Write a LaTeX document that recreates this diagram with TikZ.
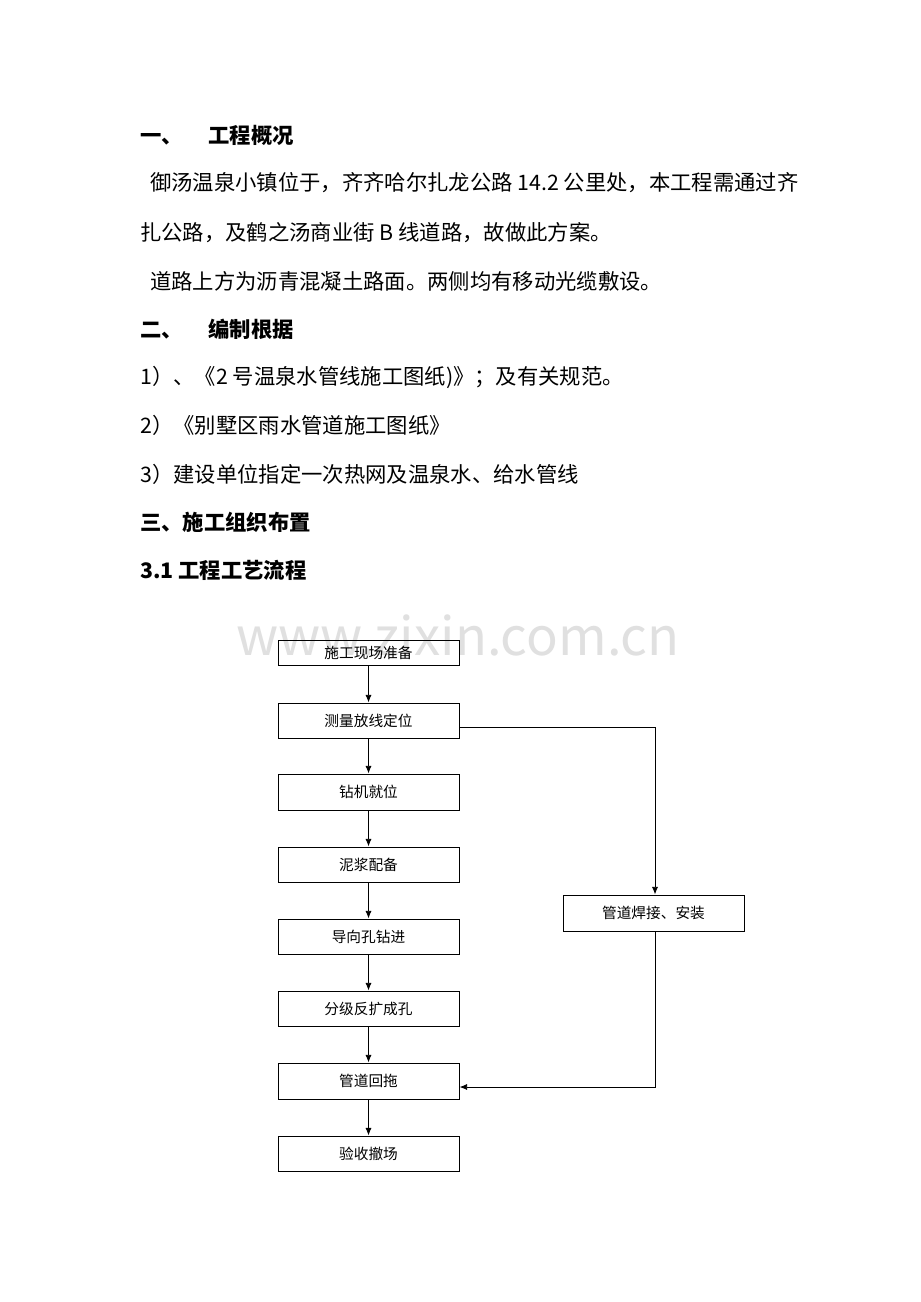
\documentclass[tikz,border=0pt]{standalone}
\usepackage{fontspec}
\setmainfont{Noto Sans CJK SC}
\usetikzlibrary{arrows.meta}
\begin{document}
\begin{tikzpicture}[x=0.647pt,y=-0.647pt,
 txt/.style={anchor=west,inner sep=0,font=\fontsize{13.8}{15}\selectfont},
 hd/.style={txt,font=\fontsize{13.8}{15}\selectfont\bfseries},
 box/.style={draw,line width=0.6pt,minimum width=181*0.647pt,inner sep=0,font=\fontsize{9.5}{10}\selectfont},
 arr/.style={-{Latex[length=5pt,width=4pt]},line width=0.6pt}]
\useasboundingbox (0,0) rectangle (920,1302);
\fill[white] (0,0) rectangle (920,1302);
\node[text=black!12,font=\fontsize{34}{36}\selectfont] (wm) at (458,635) {www.zixin.com.cn};
\node[hd] (h1) at (140,135) {一、\hspace{1.2em}工程概况};
\node[txt] (p1) at (150,183) {御汤温泉小镇位于，齐齐哈尔扎龙公路 14.2 公里处，本工程需通过齐};
\node[txt] (p2) at (140,233) {扎公路，及鹤之汤商业街 B 线道路，故做此方案。};
\node[txt] (p3) at (150,281) {道路上方为沥青混凝土路面。两侧均有移动光缆敷设。};
\node[hd] (h2) at (140,329) {二、\hspace{1.2em}编制根据};
\node[txt] (p4) at (140,377) {1）、《2 号温泉水管线施工图纸)》；及有关规范。};
\node[txt] (p5) at (140,425) {2）《别墅区雨水管道施工图纸》};
\node[txt] (p6) at (140,474) {3）建设单位指定一次热网及温泉水、给水管线};
\node[hd] (h3) at (140,522) {三、施工组织布置};
\node[hd] (h4) at (140,570) {3.1 工程工艺流程};
\node[box,minimum height=25*0.647pt] (b1) at (368.5,652.5) {施工现场准备};
\node[box,minimum height=35*0.647pt] (b2) at (368.5,720.5) {测量放线定位};
\node[box,minimum height=36*0.647pt] (b3) at (368.5,792) {钻机就位};
\node[box,minimum height=35*0.647pt] (b4) at (368.5,864.5) {泥浆配备};
\node[box,minimum height=35*0.647pt] (b5) at (368.5,936.5) {导向孔钻进};
\node[box,minimum height=35*0.647pt] (b6) at (368.5,1008.5) {分级反扩成孔};
\node[box,minimum height=36*0.647pt] (b7) at (368.5,1081) {管道回拖};
\node[box,minimum height=35*0.647pt] (b8) at (368.5,1153.5) {验收撤场};
\node[box,minimum height=36*0.647pt] (r1) at (653.5,913) {管道焊接、安装};
\draw[arr] (b1) -- (b2);
\draw[arr] (b2) -- (b3);
\draw[arr] (b3) -- (b4);
\draw[arr] (b4) -- (b5);
\draw[arr] (b5) -- (b6);
\draw[arr] (b6) -- (b7);
\draw[arr] (b7) -- (b8);
\coordinate (c1) at (655,727);
\coordinate (c2) at (655,1087);
\draw[arr] (b2.east |- c1) -- (c1) -- (c1 |- r1.north);
\draw[arr] (r1.south -| c2) -- (c2) -- (b7.east |- c2);
\end{tikzpicture}
\end{document}
